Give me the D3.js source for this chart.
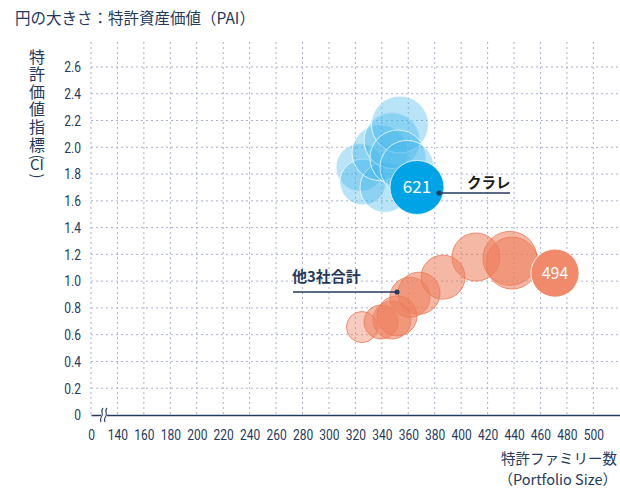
<!DOCTYPE html>
<html>
<head>
<meta charset="utf-8">
<script src="https://cdn.jsdelivr.net/npm/d3@7"></script>
<style>
  body { margin: 0; background: #fff; }
  svg { display: block; font-family: "Noto Sans CJK JP", "Noto Sans", sans-serif; }
  .tick-label { font-family: "Roboto", sans-serif; font-size: 15px; fill: #243a5e; }
</style>
</head>
<body>
<svg></svg>
<script>
  let w = 620;
  let h = 489;

// data: Kuraray (blue) and other 3 companies total (orange)
const kurarayX   = [323.5, 325.7, 342.4, 338.6, 347.7, 353.7, 352.2, 359, 366.6];
const kurarayY   = [1.85, 1.74, 1.70, 1.96, 2.05, 2.17, 1.92, 1.85, 1.70];
const kurarayPAI = [491, 451, 532, 668, 668, 692, 668, 621, 621];

const othersX   = [325, 339.4, 347.7, 351.5, 361.3, 368.1, 386.3, 411.2, 436.9, 438.5, 471];
const othersY   = [0.657, 0.695, 0.71, 0.74, 0.88, 0.91, 1.03, 1.18, 1.17, 1.135, 1.06];
const othersPAI = [205, 246, 308, 341, 341, 376, 412, 491, 621, 576, 494];

const xTicks = [140, 160, 180, 200, 220, 240, 260, 280, 300, 320, 340, 360, 380, 400, 420, 440, 460, 480, 500];
const yTicks = [0, 0.2, 0.4, 0.6, 0.8, 1.0, 1.2, 1.4, 1.6, 1.8, 2.0, 2.2, 2.4, 2.6];

const navy = '#243a5e';

const svg = d3.select('svg')
  .attr('width', w)
  .attr('height', h)

// Scales
const xScale = d3.scaleLinear()
  .domain([120, 520])
  .range([91, 619.8])

const yScale = d3.scaleLinear()
  .domain([0, 2.8])
  .range([415, 40.2])

const rScale = d3.scaleSqrt()
  .domain([0, 621])
  .range([0, 27])

// Grid
svg.append('g')
  .selectAll('line')
  .data(yTicks.slice(1))
  .enter()
  .append('line')
  .attr('x1', xScale(120)).attr('x2', 619)
  .attr('y1', d => yScale(d)).attr('y2', d => yScale(d))
  .attr('stroke', '#a9b0cc').attr('stroke-width', 1)
  .attr('stroke-dasharray', '2,3')

svg.append('g')
  .selectAll('line')
  .data([120].concat(xTicks))
  .enter()
  .append('line')
  .attr('x1', d => xScale(d)).attr('x2', d => xScale(d))
  .attr('y1', 42).attr('y2', yScale(0))
  .attr('stroke', '#a9b0cc').attr('stroke-width', 1)
  .attr('stroke-dasharray', '2,3')

// Axes (labels squeezed horizontally to look condensed)
const xAxis = d3.axisBottom(xScale)
  .tickValues([120].concat(xTicks))
  .tickFormat(d => d === 120 ? '0' : d)
  .tickSize(0)
  .tickPadding(14)

const gx = svg.append('g')
  .attr('transform', 'translate(0,' + yScale(0) + ')')
  .call(xAxis)
gx.select('.domain').attr('stroke', navy).attr('stroke-width', 1.6)
gx.selectAll('text').attr('class', 'tick-label').attr('transform', 'scale(0.8,1)')

const yAxis = d3.axisLeft(yScale)
  .tickValues(yTicks)
  .tickFormat(d => d === 0 ? '0' : d3.format('.1f')(d))
  .tickSize(0)
  .tickPadding(12.5)

const gy = svg.append('g')
  .attr('transform', 'translate(' + xScale(120) + ',0)')
  .call(yAxis)
gy.select('.domain').remove()
gy.selectAll('text').attr('class', 'tick-label').attr('transform', 'scale(0.8,1)')

// axis break mark
const brk = svg.append('g').attr('fill', 'none').attr('stroke', navy).attr('stroke-width', 1.1)
brk.append('rect').attr('x', 101).attr('y', 410).attr('width', 6).attr('height', 10).attr('fill', '#fff').attr('stroke', 'none')
;[101.5, 105.5].forEach(x0 => {
  brk.append('path')
    .attr('d', `M${x0 + 1.5},${408} C${x0 - 1.5},${411} ${x0 + 2.5},${414} ${x0},${417} S${x0 + 0.5},${421} ${x0 - 1},${422}`)
})

// Bubbles: other 3 companies
const others = othersX.map((x, i) => ({x: x, y: othersY[i], v: othersPAI[i]}))
const lastO = others.length - 1
svg.append('g')
  .selectAll('circle')
  .data(others)
  .enter()
  .append('circle')
  .attr('cx', d => xScale(d.x))
  .attr('cy', d => yScale(d.y))
  .attr('r', d => rScale(d.v))
  .attr('fill', (d, i) => i === lastO ? '#f08a6a' : '#ec7d5b')
  .attr('fill-opacity', (d, i) => i === lastO ? 1 : (i === 0 ? 0.4 : 0.55))
  .attr('stroke', (d, i) => i === lastO ? '#fff' : '#ec7d5b')
  .attr('stroke-opacity', 0.85)
  .attr('stroke-width', 1)

// Bubbles: Kuraray
const kuraray = kurarayX.map((x, i) => ({x: x, y: kurarayY[i], v: kurarayPAI[i]}))
const lastK = kuraray.length - 1
svg.append('g')
  .selectAll('circle')
  .data(kuraray)
  .enter()
  .append('circle')
  .attr('cx', d => xScale(d.x))
  .attr('cy', d => yScale(d.y))
  .attr('r', d => rScale(d.v))
  .attr('fill', (d, i) => i === lastK ? '#00a3e6' : '#3db5ec')
  .attr('fill-opacity', (d, i) => i === lastK ? 1 : 0.36)
  .attr('stroke', '#fff')
  .attr('stroke-opacity', 0.75)
  .attr('stroke-width', 1)

// value labels in latest bubbles
svg.append('text')
  .attr('x', xScale(kuraray[lastK].x)).attr('y', yScale(kuraray[lastK].y) + 6)
  .attr('text-anchor', 'middle').attr('fill', '#fff').attr('font-size', 17)
  .text(kurarayPAI[lastK])

svg.append('text')
  .attr('x', xScale(others[lastO].x)).attr('y', yScale(others[lastO].y) + 6)
  .attr('text-anchor', 'middle').attr('fill', '#fff').attr('font-size', 16)
  .text(othersPAI[lastO])

// leader lines
const ly1 = 193
svg.append('line').attr('x1', 439).attr('x2', 510).attr('y1', ly1).attr('y2', ly1)
  .attr('stroke', navy).attr('stroke-width', 1.5)
svg.append('circle').attr('cx', 439).attr('cy', ly1).attr('r', 2.6).attr('fill', navy)
svg.append('text').attr('x', 467).attr('y', 188)
  .attr('font-size', 14.5).attr('font-weight', 'bold').attr('fill', '#1a1a1a')
  .text('クラレ')

const ly2 = 292
svg.append('line').attr('x1', 293).attr('x2', 397).attr('y1', ly2).attr('y2', ly2)
  .attr('stroke', navy).attr('stroke-width', 1.5)
svg.append('circle').attr('cx', 397).attr('cy', ly2).attr('r', 2.6).attr('fill', navy)
svg.append('text').attr('x', 292).attr('y', 282)
  .attr('font-size', 15).attr('font-weight', 'bold').attr('fill', navy)
  .text('他3社合計')

// titles
svg.append('text').attr('x', 15).attr('y', 24)
  .attr('font-size', 15.5).attr('fill', navy)
  .text('円の大きさ：特許資産価値（PAI）')

// vertical y title
const gyt = svg.append('g').attr('fill', navy).attr('font-size', 16)
gyt.append('text')
  .attr('x', 37).attr('y', 48.5)
  .attr('writing-mode', 'vertical-rl')
  .attr('letter-spacing', 1.6)
  .text('特許価値指標')
gyt.append('text')
  .attr('transform', 'translate(37,157) rotate(90)')
  .attr('text-anchor', 'middle').attr('dy', '0.32em').attr('font-size', 15)
  .text('(')
gyt.append('text')
  .attr('x', 37).attr('y', 170)
  .attr('text-anchor', 'middle').attr('font-size', 15)
  .text('CI')
gyt.append('text')
  .attr('transform', 'translate(37,176) rotate(90)')
  .attr('text-anchor', 'middle').attr('dy', '0.32em').attr('font-size', 15)
  .text(')')

svg.append('text').attr('x', 617).attr('y', 463.5)
  .attr('text-anchor', 'end').attr('font-size', 14.5).attr('fill', navy)
  .text('特許ファミリー数')
svg.append('text').attr('x', 617).attr('y', 484.5)
  .attr('text-anchor', 'end').attr('font-size', 14.5).attr('fill', navy)
  .text('（Portfolio Size）')
</script>
</body>
</html>
